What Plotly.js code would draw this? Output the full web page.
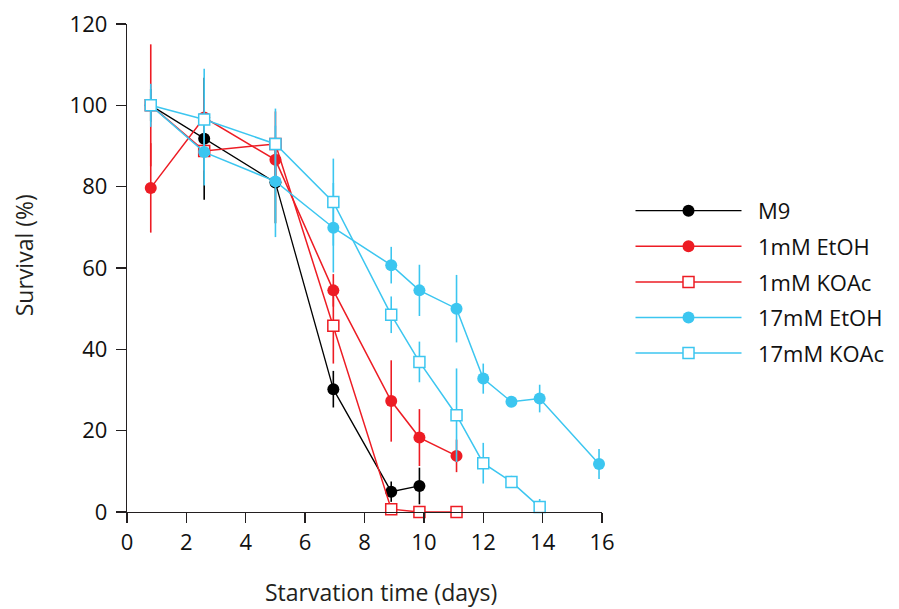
<!DOCTYPE html>
<html>
<head>
<meta charset="utf-8">
<script src="https://cdn.plot.ly/plotly-3.0.1.min.js"></script>
<style>html,body{margin:0;padding:0;background:#fff;}#chart{width:899px;height:609px;}</style>
</head>
<body>
<div id="chart"></div>
<script>
// Starvation time (days)
var daysShort = [0.8, 2.6, 5, 6.95, 8.9, 9.85];
var daysMid = [0.8, 2.6, 5, 6.95, 8.9, 9.85, 11.1];
var daysLongE = [0.8, 2.6, 5, 6.95, 8.9, 9.85, 11.1, 12, 12.95, 13.9, 15.9];
var daysLongK = [0.8, 2.6, 5, 6.95, 8.9, 9.85, 11.1, 12, 12.95, 13.9];

var m9 = [100, 91.8, 81, 30.2, 5.0, 6.4];
var m9Err = [4, 15, 10, 4.5, 2.5, 4.5];

var etoh1 = [79.7, 97, 86.6, 54.5, 27.3, 18.3, 13.8];
var etoh1Err = [11, 5, 5, 4, 10, 7, 4];

var koac1 = [100, 88.8, 90.5, 45.8, 0.7, 0, 0];
var koac1Err = [15, 5, 8, 9.3, 0.5, 0, 0];

var etoh17 = [100, 88.5, 81.3, 69.9, 60.7, 54.5, 50.0, 32.8, 27.1, 27.9, 11.8];
var etoh17Err = [4, 8.2, 13.7, 11, 4.5, 6.3, 8.3, 3.7, 1, 3.4, 3.7];

var koac17 = [100, 96.5, 90.5, 76.2, 48.5, 36.9, 23.8, 12.0, 7.4, 1.2];
var koac17Err = [5.3, 12.5, 8.7, 10.7, 4.5, 5, 11.5, 5, 1.5, 2];

var names = ['M9', '1mM EtOH', '1mM KOAc', '17mM EtOH', '17mM KOAc'];
var xTicks = [0, 2, 4, 6, 8, 10, 12, 14, 16];
var yTicks = [0, 20, 40, 60, 80, 100, 120];

var BLACK = '#000000', RED = '#ED1C24', CYAN = '#3CC6F0';
var FONT = 'Open Sans, Noto Sans, sans-serif';
var PAD = '\u00A0\u00A0';

function mk(x, y, err, name, color, symbol, lw) {
  var isOpen = symbol === 'square';
  return {
    type: 'scatter', mode: 'lines+markers', name: PAD + name, x: x, y: y,
    legendgroup: name,
    cliponaxis: false,
    line: {color: color, width: lw},
    marker: isOpen ? {symbol: 'square', size: 11, color: '#ffffff', line: {color: color, width: 1.5}}
                   : {symbol: 'circle', size: 12, color: color, line: {width: 0}},
    error_y: {type: 'data', array: err, visible: true, color: color, thickness: 1.6, width: 0}
  };
}

var traces = [
  mk(daysShort, m9, m9Err, names[0], BLACK, 'circle', 1.3),
  mk(daysMid, etoh1, etoh1Err, names[1], RED, 'circle', 1.5),
  mk(daysMid, koac1, koac1Err, names[2], RED, 'square', 1.5),
  mk(daysLongE, etoh17, etoh17Err, names[3], CYAN, 'circle', 1.5),
  mk(daysLongK, koac17, koac17Err, names[4], CYAN, 'square', 1.5)
];

var axisCommon = {
  showgrid: false, zeroline: false, showline: true, linecolor: '#231f20', linewidth: 1.3,
  ticks: 'outside', ticklen: 10, tickwidth: 1.3, tickcolor: '#231f20',
  tickfont: {family: FONT, size: 22, color: '#111111'}
};

var layout = {
  width: 899, height: 609,
  margin: {l: 127, r: 297, t: 23.6, b: 97.4, pad: 0, autoexpand: false},
  paper_bgcolor: '#ffffff', plot_bgcolor: '#ffffff',
  font: {family: FONT, color: '#231f20'},
  showlegend: true,
  legend: {
    x: 1.06, y: 0.66, xanchor: 'left', yanchor: 'top',
    font: {family: FONT, size: 22, color: '#111111'},
    itemwidth: 106, traceorder: 'grouped', tracegroupgap: 4,
    bgcolor: 'rgba(0,0,0,0)'
  },
  xaxis: Object.assign({}, axisCommon, {range: [0, 16], tickvals: xTicks, ticktext: xTicks.map(String)}),
  yaxis: Object.assign({}, axisCommon, {range: [0, 120], tickvals: yTicks, ticktext: yTicks.map(String), ticklabelstandoff: 4}),
  annotations: [
    {text: 'Starvation time (days)', xref: 'paper', yref: 'paper', x: 0.535, y: -0.164,
     xanchor: 'center', yanchor: 'middle', showarrow: false,
     font: {family: FONT, size: 23, color: '#231f20'}},
    {text: 'Survival (%)', xref: 'paper', yref: 'paper', x: -0.217, y: 0.526, textangle: -90,
     xanchor: 'center', yanchor: 'middle', showarrow: false,
     font: {family: FONT, size: 23, color: '#231f20'}}
  ]
};

Plotly.newPlot('chart', traces, layout, {displayModeBar: false, staticPlot: true});
</script>
</body>
</html>
